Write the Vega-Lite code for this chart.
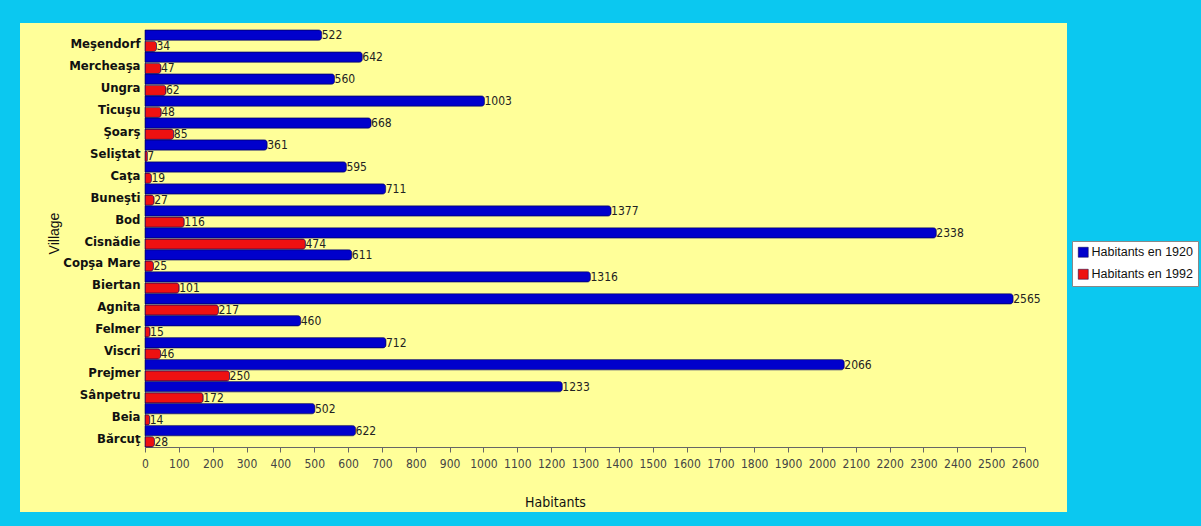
{
  "$schema": "https://vega.github.io/schema/vega-lite/v6.json",
  "autosize": "none",
  "width": 1047,
  "height": 489,
  "padding": {"left": 20, "top": 23, "right": 134, "bottom": 14},
  "background": "#0BC8F0",
  "config": {
    "view": {"fill": "#FFFF99", "stroke": null},
    "font": "DejaVu Sans Condensed, Liberation Sans Narrow, sans-serif"
  },
  "data": {
    "values": [
      {"village": "Meşendorf", "serie": "Habitants en 1920", "value": 522},
      {"village": "Meşendorf", "serie": "Habitants en 1992", "value": 34},
      {"village": "Mercheaşa", "serie": "Habitants en 1920", "value": 642},
      {"village": "Mercheaşa", "serie": "Habitants en 1992", "value": 47},
      {"village": "Ungra", "serie": "Habitants en 1920", "value": 560},
      {"village": "Ungra", "serie": "Habitants en 1992", "value": 62},
      {"village": "Ticuşu", "serie": "Habitants en 1920", "value": 1003},
      {"village": "Ticuşu", "serie": "Habitants en 1992", "value": 48},
      {"village": "Şoarş", "serie": "Habitants en 1920", "value": 668},
      {"village": "Şoarş", "serie": "Habitants en 1992", "value": 85},
      {"village": "Seliştat", "serie": "Habitants en 1920", "value": 361},
      {"village": "Seliştat", "serie": "Habitants en 1992", "value": 7},
      {"village": "Caţa", "serie": "Habitants en 1920", "value": 595},
      {"village": "Caţa", "serie": "Habitants en 1992", "value": 19},
      {"village": "Buneşti", "serie": "Habitants en 1920", "value": 711},
      {"village": "Buneşti", "serie": "Habitants en 1992", "value": 27},
      {"village": "Bod", "serie": "Habitants en 1920", "value": 1377},
      {"village": "Bod", "serie": "Habitants en 1992", "value": 116},
      {"village": "Cisnădie", "serie": "Habitants en 1920", "value": 2338},
      {"village": "Cisnădie", "serie": "Habitants en 1992", "value": 474},
      {"village": "Copşa Mare", "serie": "Habitants en 1920", "value": 611},
      {"village": "Copşa Mare", "serie": "Habitants en 1992", "value": 25},
      {"village": "Biertan", "serie": "Habitants en 1920", "value": 1316},
      {"village": "Biertan", "serie": "Habitants en 1992", "value": 101},
      {"village": "Agnita", "serie": "Habitants en 1920", "value": 2565},
      {"village": "Agnita", "serie": "Habitants en 1992", "value": 217},
      {"village": "Felmer", "serie": "Habitants en 1920", "value": 460},
      {"village": "Felmer", "serie": "Habitants en 1992", "value": 15},
      {"village": "Viscri", "serie": "Habitants en 1920", "value": 712},
      {"village": "Viscri", "serie": "Habitants en 1992", "value": 46},
      {"village": "Prejmer", "serie": "Habitants en 1920", "value": 2066},
      {"village": "Prejmer", "serie": "Habitants en 1992", "value": 250},
      {"village": "Sânpetru", "serie": "Habitants en 1920", "value": 1233},
      {"village": "Sânpetru", "serie": "Habitants en 1992", "value": 172},
      {"village": "Beia", "serie": "Habitants en 1920", "value": 502},
      {"village": "Beia", "serie": "Habitants en 1992", "value": 14},
      {"village": "Bărcuţ", "serie": "Habitants en 1920", "value": 622},
      {"village": "Bărcuţ", "serie": "Habitants en 1992", "value": 28}
    ]
  },
  "encoding": {
    "y": {
      "field": "village",
      "type": "nominal",
      "sort": null,
      "scale": {"range": [7, 424], "paddingInner": 0.02, "paddingOuter": 0},
      "axis": {
        "orient": "left",
        "offset": -125,
        "domain": true,
        "domainColor": "#999999",
        "ticks": false,
        "labelFont": "DejaVu Sans Condensed, Liberation Sans Narrow, sans-serif",
        "labelFontWeight": "bold",
        "labelFontSize": 13,
        "labelColor": "#111111",
        "labelPadding": 5,
        "labelOffset": 3,
        "title": "Village",
        "titleFont": "Liberation Sans, Arial, sans-serif",
        "titleFontSize": 14,
        "titleFontWeight": "normal",
        "titleColor": "#111111",
        "titleAngle": -90,
        "titleX": -84,
        "titleY": 210,
        "titleAlign": "center",
        "titleBaseline": "bottom"
      }
    },
    "yOffset": {
      "field": "serie",
      "type": "nominal",
      "sort": ["Habitants en 1920", "Habitants en 1992"],
      "scale": {"paddingInner": 0.08, "paddingOuter": 0}
    },
    "x": {
      "field": "value",
      "type": "quantitative",
      "scale": {"domain": [0, 2600], "range": [125, 1005], "nice": false},
      "axis": {
        "orient": "bottom",
        "offset": -65,
        "values": [0, 100, 200, 300, 400, 500, 600, 700, 800, 900, 1000, 1100, 1200, 1300, 1400, 1500, 1600, 1700, 1800, 1900, 2000, 2100, 2200, 2300, 2400, 2500, 2600],
        "format": "d",
        "grid": false,
        "domainColor": "#666666",
        "tickColor": "#666666",
        "tickSize": 5,
        "labelColor": "#444444",
        "labelFontSize": 12,
        "labelPadding": 6,
        "labelFlush": false,
        "title": "Habitants",
        "titleFontSize": 14,
        "titleFontWeight": "normal",
        "titleColor": "#111111",
        "titleX": 535,
        "titlePadding": 26
      }
    }
  },
  "layer": [
    {
      "mark": {"type": "bar", "cornerRadiusEnd": 3, "stroke": "#00006A", "strokeWidth": 0.6},
      "encoding": {
        "color": {
          "field": "serie",
          "type": "nominal",
          "scale": {"domain": ["Habitants en 1920", "Habitants en 1992"], "range": ["#0000CC", "#EE1111"]},
          "legend": {
            "orient": "none",
            "legendX": 1052,
            "legendY": 218,
            "title": null,
            "fillColor": "#FFFFFF",
            "strokeColor": "#888888",
            "padding": 5,
            "symbolType": "square",
            "symbolSize": 100,
            "symbolStrokeColor": "#000044",
            "symbolStrokeWidth": 0.5,
            "labelFont": "Liberation Sans, Arial, sans-serif",
            "labelFontSize": 12.5,
            "labelColor": "#111111",
            "labelOffset": 2,
            "rowPadding": 9
          }
        }
      }
    },
    {
      "mark": {"type": "text", "align": "left", "baseline": "middle", "dx": 0, "fontSize": 12, "color": "#222222"},
      "encoding": {
        "text": {"field": "value", "type": "quantitative"}
      }
    }
  ]
}
